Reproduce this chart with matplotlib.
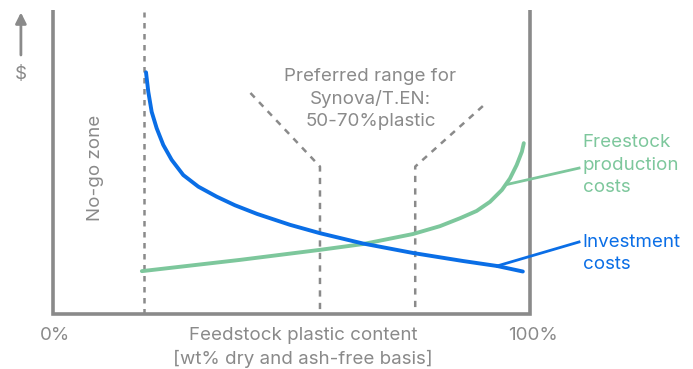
import matplotlib.pyplot as plt
import numpy as np

plt.rcParams['font.family'] = ['Inter', 'DejaVu Sans']

# curve points (x = % plastic, y = relative cost)
invest_x = [19.47, 19.95, 20.66, 21.71, 23.10, 24.86, 27.30, 30.45, 34.31, 38.16, 42.78, 49.7, 56.0, 65.03, 75.54, 86.04, 93.2, 98.6]
invest_y = [79.5, 73.1, 66.5, 61.1, 55.6, 50.7, 45.7, 41.9, 38.6, 35.76, 32.93, 29.34, 26.58, 23.19, 20.07, 17.43, 15.79, 13.98]
feed_x = [18.6, 39.2, 56.0, 65.0, 75.5, 81.2, 85.4, 88.9, 91.7, 94.2, 95.9, 97.3, 98.4, 98.8]
feed_y = [14.1, 17.8, 21.1, 23.0, 26.3, 28.9, 31.5, 33.9, 36.9, 40.8, 44.6, 49.0, 53.4, 56.2]

nogo_x = 19
range_lo, range_hi = 56, 76
xtick_labels = ['0%', '100%']

blue = '#0a6ee6'
green = '#7dc79c'
gray = '#8a8a8a'
fs = 13.5

fig = plt.figure(figsize=(6.93, 3.69), dpi=100)
ax = fig.add_axes([0, 0, 1, 1])
ax.set_xlim(-11.19, 134.33)
ax.set_ylim(-18.09, 103.29)
ax.axis('off')

# frame
ax.plot([0, 0, 100, 100], [100, 0, 0, 100], color=gray, lw=2.6, solid_capstyle='butt', solid_joinstyle='miter')

# dashed guides
ax.plot([nogo_x, nogo_x], [0, 99.3], color=gray, lw=1.8, ls=(0, (2.2, 2.2)))
ax.plot([41.4, range_lo, range_lo], [72.7, 48.5, 0], color=gray, lw=1.8, ls=(0, (2.5, 2.5)))
ax.plot([90.2, range_hi, range_hi], [68.4, 48.5, 0], color=gray, lw=1.8, ls=(0, (2.5, 2.5)))

# curves
ax.plot(feed_x, feed_y, color=green, lw=2.8, solid_capstyle='round', solid_joinstyle='round')
ax.plot(invest_x, invest_y, color=blue, lw=2.8, solid_capstyle='round', solid_joinstyle='round')

# callout lines
ax.plot([95.5, 110.4], [42.7, 48.0], color=green, lw=2)
ax.plot([93.2, 110.4], [15.8, 23.7], color=blue, lw=2)

ax.text(111.2, 49.0, 'Freestock\nproduction\ncosts', color=green, fontsize=fs,
        ha='left', va='center', linespacing=1.4)
ax.text(111.2, 19.9, 'Investment\ncosts', color=blue, fontsize=fs,
        ha='left', va='center', linespacing=1.4)

ax.text(66.6, 70.7, 'Preferred range for\nSynova/T.EN:\n50-70%plastic', color=gray, fontsize=fs,
        ha='center', va='center', linespacing=1.4)
ax.text(8.9, 48.0, 'No-go zone', color=gray, fontsize=fs, rotation=90, ha='center', va='center')

# y "axis" arrow
ax.annotate('', xy=(-6.8, 99.2), xytext=(-6.8, 85.2),
            arrowprops=dict(arrowstyle='-|>', color=gray, lw=2, mutation_scale=16, shrinkA=0, shrinkB=0))
ax.text(-6.8, 78.9, '$', color=gray, fontsize=fs, ha='center', va='center')

# x labels
ax.text(0.4, -7.2, xtick_labels[0], color=gray, fontsize=fs, ha='center', va='center')
ax.text(100.7, -7.2, xtick_labels[1], color=gray, fontsize=fs, ha='center', va='center')
ax.text(52.4, -10.9, 'Feedstock plastic content\n[wt% dry and ash-free basis]', color=gray, fontsize=fs,
        ha='center', va='center', linespacing=1.4)

fig.savefig('out.png', dpi=100)
